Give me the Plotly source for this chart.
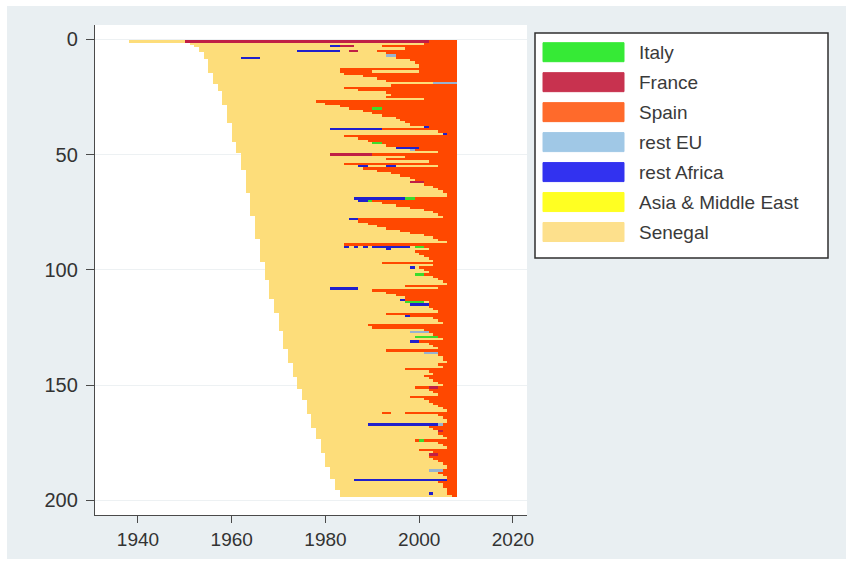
import plotly.graph_objects as go

# ---------------------------------------------------------------------------
# Migration trajectories of 198 Senegalese migrants, one row per person,
# coloured by place of residence in each calendar year (observed up to 2007).
# ---------------------------------------------------------------------------

PLACES = ["Italy", "France", "Spain", "rest EU", "rest Africa",
          "Asia & Middle East", "Senegal"]

BAR_COLORS = {
    "Italy": "#3cdc2c",
    "France": "#c01f45",
    "Spain": "#ff4800",
    "rest EU": "#98b2cf",
    "rest Africa": "#2020cc",
    "Asia & Middle East": "#ffff1e",
    "Senegal": "#fddd7a",
}
KEY_COLORS = {
    "Italy": "#36ea36",
    "France": "#c8324f",
    "Spain": "#ff6a2b",
    "rest EU": "#a0c8e6",
    "rest Africa": "#3232f0",
    "Asia & Middle East": "#ffff22",
    "Senegal": "#fde08c",
}

LAST_YEAR = 2007

# birth cohorts (year of birth and number of consecutive rows)
COHORT_YEAR = [1938, 1951, 1952, 1953, 1954, 1955, 1956, 1957, 1958, 1959,
               1960, 1961, 1962, 1963, 1964, 1965, 1966, 1967, 1968, 1969,
               1970, 1971, 1972, 1973, 1974, 1975, 1976, 1977, 1978, 1979,
               1980, 1981, 1982, 1983]
COHORT_SIZE = [1, 1, 1, 2, 3, 6, 5, 3, 6, 8,
               8, 5, 7, 10, 10, 10, 10, 8, 8, 6,
               8, 8, 6, 6, 5, 5, 6, 6, 5, 6,
               6, 5, 5, 3]

# first year spent in Spain, per row (2008 = never reached Spain)
SPAIN_YEAR = [
    2002, 2001, 1992, 1997, 1991, 1993, 1995, 1995, 1998, 1999,
    2000, 2000, 1983, 1983, 1984, 1988, 1991, 1993, 2008, 1994,
    1984, 1987, 1993, 1994, 1993, 2001, 1978, 1980, 1983, 1985,
    1988, 1990, 1992, 1995, 1996, 1997, 1998, 2002, 1992, 2004,
    2006, 1984, 1987, 1989, 1992, 1993, 2000, 1999, 2004, 1990,
    1997, 1993, 2002, 1984, 2004, 1988, 1991, 1994, 1996, 1998,
    1999, 2001, 2001, 2003, 2004, 2005, 2006, 2006, 1999, 1990,
    1992, 1995, 1998, 2001, 2003, 2004, 2005, 1987, 1987, 1989,
    1991, 1993, 1996, 1998, 2001, 2003, 2004, 2006, 1984, 2001,
    2002, 1999, 2000, 2001, 2002, 2003, 1992, 2003, 2000, 2001,
    2002, 2001, 2003, 2004, 2005, 2006, 1997, 2004, 1990, 1993,
    1995, 1997, 1997, 2002, 2002, 2002, 2003, 2004, 1993, 1998,
    2003, 2004, 2005, 1989, 1990, 2001, 2002, 2003, 2004, 2005,
    2000, 2002, 2003, 2004, 1993, 2004, 2004, 2005, 2005, 2006,
    2004, 2005, 1997, 2002, 2003, 2001, 2002, 2003, 2004, 2005,
    1999, 2002, 2003, 2004, 1998, 2001, 2002, 2003, 2004, 2005,
    2006, 1992, 2004, 2005, 2006, 2006, 2005, 2002, 2003, 2005,
    2004, 2005, 2006, 1999, 2004, 2005, 2006, 2000, 2003, 2004,
    2002, 2003, 2004, 2005, 2006, 2006, 2005, 2004, 2005, 2006,
    2006, 2004, 2005, 2005, 2006, 2006, 2006, 2007,
]

# other spells: row, place, first year, year after the last one
EP_ROW = [1, 3, 3, 5, 5, 7, 8, 14, 19, 30,
          38, 39, 41, 45, 47, 48, 50, 55, 55, 62,
          69, 69, 70, 70, 78, 90, 90, 90, 90, 90,
          91, 99, 102, 108, 113, 114, 115, 120, 127, 129,
          131, 136, 151, 162, 167, 167, 170, 174, 180, 187,
          191, 197]
EP_PLACE = ["France", "rest Africa", "France", "rest Africa", "France",
            "rest EU", "rest Africa", "Senegal", "rest EU", "Italy",
            "rest Africa", "rest Africa", "rest Africa", "Italy", "rest Africa",
            "rest EU", "France", "rest Africa", "rest Africa", "France",
            "rest Africa", "Italy", "rest Africa", "Italy", "rest Africa",
            "rest Africa", "rest Africa", "rest Africa", "rest Africa", "Italy",
            "rest Africa", "rest Africa", "Italy", "rest Africa", "rest Africa",
            "Italy", "rest Africa", "rest Africa", "rest EU", "Italy",
            "rest Africa", "rest EU", "France", "Senegal", "rest Africa",
            "rest EU", "France", "Italy", "France", "rest EU",
            "rest Africa", "rest Africa"]
EP_START = [1950, 1981, 1983, 1974, 1985, 1993, 1962, 1990, 2003, 1990,
            2001, 1981, 2005, 1990, 1995, 1998, 1981, 1987, 1993, 1998,
            1986, 1997, 1987, 1989, 1985, 1984, 1986, 1988, 1990, 1999,
            1993, 1998, 1999, 1981, 1996, 1997, 1998, 1997, 1998, 1999,
            1998, 2001, 2002, 1994, 1989, 2004, 2004, 2000, 2002, 2002,
            1986, 2002]
EP_END = [2002, 1983, 1986, 1983, 1987, 1995, 1966, 2000, 2008, 1992,
          2002, 1992, 2006, 1992, 2000, 1999, 1990, 1989, 1995, 2001,
          1997, 1999, 1989, 1990, 1987, 1985, 1987, 1989, 1998, 2001,
          1994, 1999, 2001, 1987, 1997, 2001, 2002, 1998, 2002, 2004,
          2000, 2004, 2004, 1997, 2004, 2005, 2005, 2001, 2004, 2005,
          2006, 2003]

# ---------------------------------------------------------------------------
# Build the yearly state of every row and collapse it into spells
# ---------------------------------------------------------------------------
birth = []
for yr, n in zip(COHORT_YEAR, COHORT_SIZE):
    birth += [yr] * n

spells = {p: {"row": [], "start": [], "length": []} for p in PLACES}
for i, b in enumerate(birth):
    row = i + 1
    state = {}
    for yr in range(b, LAST_YEAR + 1):
        state[yr] = "Spain" if yr >= SPAIN_YEAR[i] else "Senegal"
    for r, p, s, e in zip(EP_ROW, EP_PLACE, EP_START, EP_END):
        if r == row:
            for yr in range(s, e):
                if yr in state:
                    state[yr] = p
    years = sorted(state)
    start, cur = years[0], state[years[0]]
    for yr in years[1:] + [LAST_YEAR + 1]:
        p = state.get(yr)
        if p != cur:
            spells[cur]["row"].append(row)
            spells[cur]["start"].append(start)
            spells[cur]["length"].append(yr - start)
            start, cur = yr, p

fig = go.Figure()
for p in ["Senegal", "Spain", "France", "Italy", "rest EU", "rest Africa",
          "Asia & Middle East"]:
    d = spells[p]
    if not d["row"]:
        continue
    fig.add_trace(go.Bar(
        orientation="h", y=d["row"], x=d["length"], base=d["start"],
        width=1.02, name=p, showlegend=False,
        marker=dict(color=BAR_COLORS[p], line=dict(width=0)),
        hovertemplate=p + ": %{base}–%{x}<extra></extra>",
    ))

# ---------------------------------------------------------------------------
# Layout
# ---------------------------------------------------------------------------
W, H = 852, 566
PL, PR, PT, PB = 95, 527, 25, 515          # plot region in pixels
PW, PH = PR - PL, PB - PT


def px(x):
    return (x - PL) / PW


def py(y):
    return (PB - y) / PH


AXIS_GREY = "#4a4a4a"
TEXT = "#333333"
FONT = "Liberation Sans, Arial, sans-serif"

shapes = [
    # graph region
    dict(type="rect", xref="paper", yref="paper", layer="below",
         x0=px(7), x1=px(846), y0=py(559), y1=py(6),
         fillcolor="#e9eff2", line=dict(width=0)),
    # plot region
    dict(type="rect", xref="paper", yref="paper", layer="below",
         x0=0, x1=1, y0=0, y1=1, fillcolor="white", line=dict(width=0)),
    # key box
    dict(type="rect", xref="paper", yref="paper", layer="above",
         x0=px(535), x1=px(828), y0=py(258), y1=py(33),
         fillcolor="white", line=dict(color="#2f2f2f", width=1.5)),
]
annotations = []
for k, p in enumerate(PLACES):
    cy = 52.2 + 29.97 * k
    shapes.append(dict(
        type="rect", xref="paper", yref="paper", layer="above",
        x0=px(543), x1=px(624), y0=py(cy + 9.5), y1=py(cy - 9.5),
        fillcolor=KEY_COLORS[p], line=dict(color=KEY_COLORS[p], width=1)))
    annotations.append(dict(
        xref="paper", yref="paper", x=px(637), y=py(cy),
        xanchor="left", yanchor="middle", showarrow=False, text=p,
        font=dict(family=FONT, size=19, color="#3a3a3a")))

fig.update_layout(
    width=W, height=H,
    margin=dict(l=PL, r=W - PR, t=PT, b=H - PB, pad=0),
    paper_bgcolor="white", plot_bgcolor="white",
    barmode="overlay", bargap=0, showlegend=False,
    font=dict(family=FONT, color=TEXT),
    shapes=shapes, annotations=annotations,
    xaxis=dict(
        range=[1930.83, 2023.0], tickmode="array",
        tickvals=[1940, 1960, 1980, 2000, 2020],
        ticks="outside", ticklen=7, tickwidth=1.3, tickcolor=AXIS_GREY,
        showline=True, linecolor=AXIS_GREY, linewidth=1.3,
        showgrid=False, zeroline=False,
        tickfont=dict(size=19, color=TEXT), ticklabelstandoff=0,
    ),
    yaxis=dict(
        range=[206.3, -6.2], tickmode="array",
        tickvals=[0, 50, 100, 150, 200],
        ticks="outside", ticklen=8, tickwidth=1.3, tickcolor=AXIS_GREY,
        showline=True, linecolor=AXIS_GREY, linewidth=1.3,
        showgrid=True, gridcolor="#edf1f3", gridwidth=1,
        zeroline=False,
        tickfont=dict(size=20, color=TEXT), ticklabelstandoff=4,
    ),
)

fig.write_html("out.html")
